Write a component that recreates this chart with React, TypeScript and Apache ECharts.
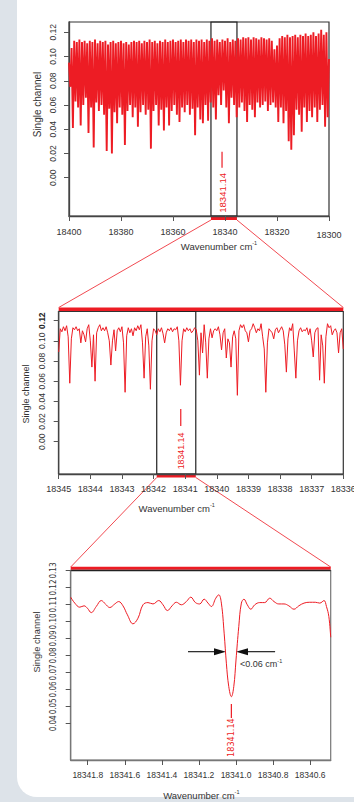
import React, { useEffect, useRef } from 'react';
import * as echarts from 'echarts';

const RED = '#ed1c24';
const FONT = '"Liberation Sans", Arial, sans-serif';
const NARROW = '"Liberation Sans Narrow", "DejaVu Sans Condensed", "Liberation Sans", sans-serif';

// ---- Top panel: 18400 -> 18300 cm-1, band maxima at whole wavenumbers, minima at half wavenumbers
const topStart = 18400;
const topUpper = [
  0.095, 0.107, 0.113, 0.112, 0.114, 0.112, 0.113, 0.111, 0.113, 0.112,
  0.114, 0.111, 0.113, 0.112, 0.113, 0.110, 0.112, 0.113, 0.111, 0.112,
  0.113, 0.111, 0.112, 0.110, 0.112, 0.113, 0.112, 0.113, 0.111, 0.113,
  0.112, 0.114, 0.112, 0.113, 0.111, 0.113, 0.112, 0.114, 0.112, 0.113,
  0.114, 0.112, 0.113, 0.114, 0.112, 0.114, 0.113, 0.114, 0.112, 0.114,
  0.113, 0.114, 0.112, 0.114, 0.113, 0.115, 0.113, 0.114, 0.112, 0.114,
  0.113, 0.115, 0.112, 0.114, 0.113, 0.115, 0.114, 0.116, 0.115, 0.116,
  0.114, 0.116, 0.115, 0.114, 0.116, 0.115, 0.114, 0.115, 0.113, 0.106,
  0.109, 0.115, 0.117, 0.116, 0.118, 0.116, 0.117, 0.118, 0.116, 0.118,
  0.117, 0.119, 0.117, 0.118, 0.120, 0.117, 0.119, 0.122, 0.118, 0.120,
  0.098,
];
const topLower = [
  0.075, 0.041, 0.063, 0.058, 0.043, 0.060, 0.066, 0.037, 0.058, 0.025,
  0.062, 0.055, 0.060, 0.052, 0.022, 0.057, 0.020, 0.054, 0.045, 0.058,
  0.052, 0.027, 0.055, 0.060, 0.050, 0.058, 0.042, 0.054, 0.060, 0.052,
  0.056, 0.024, 0.055, 0.060, 0.043, 0.056, 0.039, 0.058, 0.043, 0.055,
  0.060, 0.052, 0.046, 0.058, 0.054, 0.060, 0.052, 0.057, 0.035, 0.058,
  0.048, 0.045, 0.060, 0.047, 0.062, 0.058, 0.048, 0.068, 0.060, 0.072,
  0.058, 0.045, 0.066, 0.060, 0.050, 0.058, 0.062, 0.055, 0.046, 0.060,
  0.056, 0.050, 0.062, 0.058, 0.060, 0.063, 0.055, 0.060, 0.062, 0.058,
  0.046, 0.058, 0.045, 0.055, 0.030, 0.023, 0.035, 0.056, 0.052, 0.038,
  0.058, 0.046, 0.055, 0.050, 0.058, 0.046, 0.056, 0.060, 0.042, 0.050,
];
const topTicks = [18400, 18380, 18360, 18340, 18320, 18300];
const topYTicks = [0, 0.02, 0.04, 0.06, 0.08, 0.1, 0.12];

// ---- Middle panel: 18345 -> 18336 cm-1 every 0.05 cm-1
const midStart = 18345;
const midStep = 0.05;
const midValues = [
  0.089, 0.112, 0.109, 0.114, 0.110, 0.115, 0.104, 0.058, 0.102, 0.113,
  0.111, 0.114, 0.110, 0.112, 0.098, 0.110, 0.106, 0.099, 0.112, 0.116,
  0.100, 0.074, 0.106, 0.060, 0.108, 0.113, 0.116, 0.110, 0.113, 0.110,
  0.114, 0.108, 0.100, 0.076, 0.100, 0.111, 0.090, 0.110, 0.113, 0.109,
  0.114, 0.098, 0.049, 0.105, 0.113, 0.108, 0.112, 0.105, 0.113, 0.110,
  0.115, 0.111, 0.116, 0.098, 0.063, 0.104, 0.112, 0.095, 0.052, 0.100,
  0.112, 0.110, 0.106, 0.112, 0.109, 0.113, 0.107, 0.098, 0.108, 0.112,
  0.110, 0.113, 0.109, 0.112, 0.111, 0.114, 0.100, 0.056, 0.100, 0.112,
  0.109, 0.113, 0.110, 0.112, 0.108, 0.110, 0.113, 0.111, 0.100, 0.066,
  0.108, 0.088, 0.116, 0.098, 0.063, 0.102, 0.112, 0.103, 0.110, 0.112,
  0.110, 0.114, 0.106, 0.091, 0.108, 0.112, 0.083, 0.102, 0.098, 0.074,
  0.104, 0.110, 0.102, 0.046, 0.110, 0.116, 0.113, 0.116, 0.110, 0.108,
  0.099, 0.110, 0.112, 0.117, 0.113, 0.108, 0.112, 0.110, 0.117, 0.104,
  0.092, 0.049, 0.098, 0.112, 0.110, 0.108, 0.102, 0.111, 0.113, 0.108,
  0.111, 0.114, 0.110, 0.096, 0.069, 0.102, 0.113, 0.110, 0.117, 0.090,
  0.063, 0.100, 0.110, 0.113, 0.109, 0.111, 0.110, 0.113, 0.106, 0.112,
  0.100, 0.084, 0.108, 0.112, 0.113, 0.061, 0.106, 0.095, 0.058, 0.104,
  0.117, 0.113, 0.115, 0.106, 0.110, 0.112, 0.108, 0.088, 0.108, 0.112,
  0.092,
];
const midTicks = [18345, 18344, 18343, 18342, 18341, 18340, 18339, 18338, 18337, 18336];
const midYTicks = [0, 0.02, 0.04, 0.06, 0.08, 0.1, 0.12];

// ---- Bottom panel
const botWave = [
  18341.892, 18341.870, 18341.843, 18341.820, 18341.802, 18341.781, 18341.754, 18341.727, 18341.705, 18341.681,
  18341.654, 18341.633, 18341.610, 18341.586, 18341.556, 18341.529, 18341.502, 18341.475, 18341.448, 18341.417,
  18341.394, 18341.370, 18341.345, 18341.322, 18341.295, 18341.268, 18341.244, 18341.219, 18341.196, 18341.172,
  18341.151, 18341.133, 18341.109, 18341.093, 18341.079, 18341.064, 18341.052, 18341.039, 18341.025, 18341.012,
  18341.000, 18340.985, 18340.971, 18340.957, 18340.939, 18340.920, 18340.899, 18340.872, 18340.845, 18340.818,
  18340.795, 18340.769, 18340.741, 18340.715, 18340.687, 18340.661, 18340.633, 18340.602, 18340.572, 18340.548,
  18340.525, 18340.512, 18340.499, 18340.489,
];
const botVal = [
  0.1143, 0.1108, 0.1084, 0.1092, 0.1078, 0.1052, 0.1088, 0.1123, 0.1103, 0.1082,
  0.1103, 0.1117, 0.1092, 0.1039, 0.0986, 0.1019, 0.1098, 0.1111, 0.1103, 0.1123,
  0.1098, 0.1064, 0.1092, 0.1113, 0.1098, 0.1117, 0.1143, 0.1111, 0.1103, 0.1131,
  0.1108, 0.1088, 0.1137, 0.1157, 0.1108, 0.0931, 0.0754, 0.0616, 0.0557, 0.0616,
  0.0773, 0.0970, 0.1108, 0.1131, 0.1098, 0.1072, 0.1098, 0.1111, 0.1111, 0.1137,
  0.1117, 0.1103, 0.1103, 0.1092, 0.1072, 0.1092, 0.1108, 0.1113, 0.1113, 0.1108,
  0.1123, 0.1088, 0.1029, 0.0907,
];
const botTicks = [18341.8, 18341.6, 18341.4, 18341.2, 18341.0, 18340.8, 18340.6];
const botYTicks = [0.04, 0.05, 0.06, 0.07, 0.08, 0.09, 0.1, 0.11, 0.12, 0.13];

// ---- annotations (data coordinates)
const topZoomRange = [18345.4, 18335.4];
const midZoomRange = [18341.9, 18340.665];
const markerLabel = '18341.14';
const markerWave = 18341.14;
const botMarkerWave = 18341.025;
const widthLabel = '<0.06 cm';
const arrowLevel = 0.0822;
const arrowLeft = [18341.259, 18341.054];
const arrowRight = [18340.789, 18341.0];

const G = [
  { left: 69, top: 22, width: 260, height: 194 },
  { left: 58.7, top: 311.5, width: 284.6, height: 162.5 },
  { left: 70.7, top: 570.5, width: 260, height: 189.5 },
];

function xAxisCfg(gridIndex: number, min: number, max: number, ticks: number[], fontSize: number, margin: number, fmt: (v: number) => string, rich?: any, lineColor = '#444') {
  return {
    type: 'value', gridIndex, min, max, inverse: true,
    axisLine: { show: true, onZero: false, lineStyle: { color: lineColor, width: 1.3 } },
    axisTick: { show: true, length: 5, customValues: ticks, lineStyle: { color: '#555', width: 1 } },
    axisLabel: { show: true, customValues: ticks, fontSize, color: '#333', fontFamily: FONT, margin, formatter: fmt, rich, showMinLabel: true, showMaxLabel: true },
    splitLine: { show: false },
  };
}

function yAxisCfg(gridIndex: number, min: number, max: number, ticks: number[], fontSize: number, margin: number, fmt: (v: number) => string, family: string, rich?: any, lineColor = '#444') {
  return {
    type: 'value', gridIndex, min, max,
    axisLine: { show: true, onZero: false, lineStyle: { color: lineColor, width: 1.3 } },
    axisTick: { show: true, length: 5, customValues: ticks, lineStyle: { color: '#555', width: 1 } },
    axisLabel: { show: true, customValues: ticks, rotate: 90, fontSize, color: '#333', fontFamily: family, margin, formatter: fmt, rich, showMinLabel: true, showMaxLabel: true },
    splitLine: { show: false },
  };
}

export default function App() {
  const ref = useRef<HTMLDivElement>(null);
  useEffect(() => {
    const chart = echarts.init(ref.current!, null, { renderer: 'svg' });

    const topData: number[][] = [];
    for (let j = 0; j < topUpper.length; j++) {
      topData.push([topStart - j, topUpper[j]]);
      if (j < topLower.length) topData.push([topStart - j - 0.5, topLower[j]]);
    }
    const midData = midValues.map((v, i) => [Number((midStart - i * midStep).toFixed(2)), v]);
    const botData = botWave.map((w, i) => [w, botVal[i]]);

    chart.setOption({
      animation: false,
      backgroundColor: 'transparent',
      grid: G.map((g, i) => ({
        ...g, show: true, backgroundColor: 'transparent',
        borderColor: i === 2 ? '#777' : '#333', borderWidth: 1.2, outerBoundsMode: 'none', containLabel: false,
      })),
      xAxis: [
        xAxisCfg(0, 18300, 18400, topTicks, 9, 11, (v: number) => (v === 18300 ? `{d|${v}}` : `${v}`), { d: { fontSize: 9, color: '#333', fontFamily: FONT, padding: [3, 0, 0, 0] } }),
        xAxisCfg(1, 18336, 18345, midTicks, 9, 10, (v: number) => `${v}`),
        xAxisCfg(2, 18340.489, 18341.892, botTicks, 8.5, 10, (v: number) => v.toFixed(1), undefined, '#777'),
      ],
      yAxis: [
        yAxisCfg(0, -0.0316, 0.1285, topYTicks, 8.5, 12, (v: number) => v.toFixed(2), FONT),
        yAxisCfg(1, -0.032, 0.1291, midYTicks, 8.5, 12.5, (v: number) => (Math.abs(v - 0.12) < 1e-9 ? '{b|0.12}' : v.toFixed(2)), FONT, { b: { fontWeight: 'bold', fontSize: 8.5, color: '#222', fontFamily: FONT } }),
        yAxisCfg(2, 0.0184, 0.13, botYTicks, 8, 13.5, (v: number) => v.toFixed(2), NARROW, undefined, '#777'),
      ],
      series: [
        { type: 'line', xAxisIndex: 0, yAxisIndex: 0, data: topData, showSymbol: false, symbol: 'none', lineStyle: { color: RED, width: 1.9 } },
        { type: 'line', xAxisIndex: 1, yAxisIndex: 1, data: midData, showSymbol: false, symbol: 'none', lineStyle: { color: RED, width: 1 } },
        { type: 'line', xAxisIndex: 2, yAxisIndex: 2, data: botData, showSymbol: false, symbol: 'none', smooth: 0.4, lineStyle: { color: RED, width: 1 } },
      ],
    });

    const p = (g: number, x: number, y: number) => chart.convertToPixel({ xAxisIndex: g, yAxisIndex: g } as any, [x, y]) as number[];
    const T = G[0], M = G[1], B = G[2];
    const tA = p(0, topZoomRange[0], 0)[0], tB = p(0, topZoomRange[1], 0)[0];
    const mA = p(1, midZoomRange[0], 0)[0], mB = p(1, midZoomRange[1], 0)[0];
    const tBottom = T.top + T.height, mBottom = M.top + M.height;

    const rotText = (pt: number[], text: string, size: number, fill: string, family = FONT) => ({
      type: 'text', x: pt[0], y: pt[1], rotation: Math.PI / 2,
      style: { text, fill, fontSize: size, fontFamily: family, align: 'center', verticalAlign: 'middle', textAlign: 'center', textVerticalAlign: 'middle' },
    });
    const supText = (x: number, y: number, main: string, size: number, align = 'center') => ({
      type: 'text', x, y,
      style: {
        text: `{a|${main}}{s|-1}`, fill: '#333', align, verticalAlign: 'middle', textAlign: align, textVerticalAlign: 'middle',
        rich: { a: { fontSize: size, fontFamily: FONT, fill: '#333', lineHeight: size + 3 }, s: { fontSize: 5.5, fontFamily: FONT, fill: '#333', verticalAlign: 'top', lineHeight: size + 3 } },
      },
    });
    const line = (x1: number, y1: number, x2: number, y2: number, stroke: string, lw: number) => ({
      type: 'line', shape: { x1, y1, x2, y2 }, style: { stroke, lineWidth: lw },
    });

    const mk0a = p(0, markerWave, 0.0214), mk0b = p(0, markerWave, 0.0082), mk0t = p(0, markerWave, -0.0125);
    const mk1a = p(1, markerWave, 0.0324), mk1b = p(1, markerWave, 0.0155), mk1t = p(1, markerWave, -0.0092);
    const mk2a = p(2, botMarkerWave, 0.0514), mk2b = p(2, botMarkerWave, 0.0431), mk2t = p(2, botMarkerWave, 0.0316);

    const aL0 = p(2, arrowLeft[0], arrowLevel), aL1 = p(2, arrowLeft[1], arrowLevel);
    const aR0 = p(2, arrowRight[0], arrowLevel), aR1 = p(2, arrowRight[1], arrowLevel);
    const lbl = p(2, 18340.978, 0.075);
    const head = 12, hh = 3.5;

    chart.setOption({
      graphic: [
        // top selection
        { type: 'rect', shape: { x: tA, y: T.top, width: tB - tA, height: T.height }, style: { fill: 'none', stroke: '#222', lineWidth: 1.2 } },
        { type: 'rect', shape: { x: tA, y: tBottom, width: tB - tA, height: 4 }, style: { fill: RED } },
        line(tA, tBottom + 4, M.left, M.top - 4, RED, 0.8),
        line(tB, tBottom + 4, M.left + M.width, M.top - 4, RED, 0.8),
        { type: 'rect', shape: { x: M.left, y: M.top - 4, width: M.width, height: 3.5 }, style: { fill: RED } },
        // middle selection
        { type: 'rect', shape: { x: mA, y: M.top, width: mB - mA, height: M.height }, style: { fill: 'none', stroke: '#222', lineWidth: 1.2 } },
        { type: 'rect', shape: { x: mA, y: mBottom, width: mB - mA, height: 3.5 }, style: { fill: RED } },
        line(mA, mBottom + 3.5, B.left, B.top - 3.5, RED, 0.8),
        line(mB, mBottom + 3.5, B.left + B.width, B.top - 3.5, RED, 0.8),
        { type: 'rect', shape: { x: B.left, y: B.top - 3.7, width: B.width, height: 3 }, style: { fill: RED } },
        line(B.left, B.top, B.left + B.width, B.top, '#222', 1.5),
        // markers
        line(mk0a[0], mk0a[1], mk0b[0], mk0b[1], RED, 1.2),
        rotText(mk0t, markerLabel, 9.6, RED),
        line(mk1a[0], mk1a[1], mk1b[0], mk1b[1], RED, 1.2),
        rotText(mk1t, markerLabel, 8.8, RED),
        line(mk2a[0], mk2a[1], mk2b[0], mk2b[1], RED, 1.2),
        rotText(mk2t, markerLabel, 9, RED, NARROW),
        // width arrows
        line(aL0[0], aL0[1], aL1[0] - head, aL1[1], '#222', 1.2),
        { type: 'polygon', shape: { points: [[aL1[0] - head, aL1[1] - hh], [aL1[0], aL1[1]], [aL1[0] - head, aL1[1] + hh]] }, style: { fill: '#111' } },
        line(aR0[0], aR0[1], aR1[0] + head, aR1[1], '#222', 1.2),
        { type: 'polygon', shape: { points: [[aR1[0] + head, aR1[1] - hh], [aR1[0], aR1[1]], [aR1[0] + head, aR1[1] + hh]] }, style: { fill: '#111' } },
        supText(lbl[0], lbl[1], widthLabel, 9, 'left'),
        // axis names
        rotText([37, 104.5], 'Single channel', 10, '#333'),
        rotText([26.3, 394], 'Single channel', 9, '#333'),
        rotText([37, 642], 'Single channel', 9.3, '#333'),
        supText(219, 246, 'Wavenumber cm', 9.5),
        supText(176.7, 508, 'Wavenumber cm', 9.5),
        supText(201.3, 795, 'Wavenumber cm', 9.5),
      ],
    });

    return () => chart.dispose();
  }, []);

  return (
    <div style={{ position: 'fixed', left: 0, top: 0, width: 354, height: 802, background: '#dde3e9', overflow: 'hidden' }}>
      <div style={{ position: 'absolute', left: 17, top: -20, width: 360, height: 817, background: '#ffffff', borderRadius: 20 }} />
      <div ref={ref} style={{ position: 'absolute', left: 0, top: 0, width: 354, height: 802 }} />
    </div>
  );
}
